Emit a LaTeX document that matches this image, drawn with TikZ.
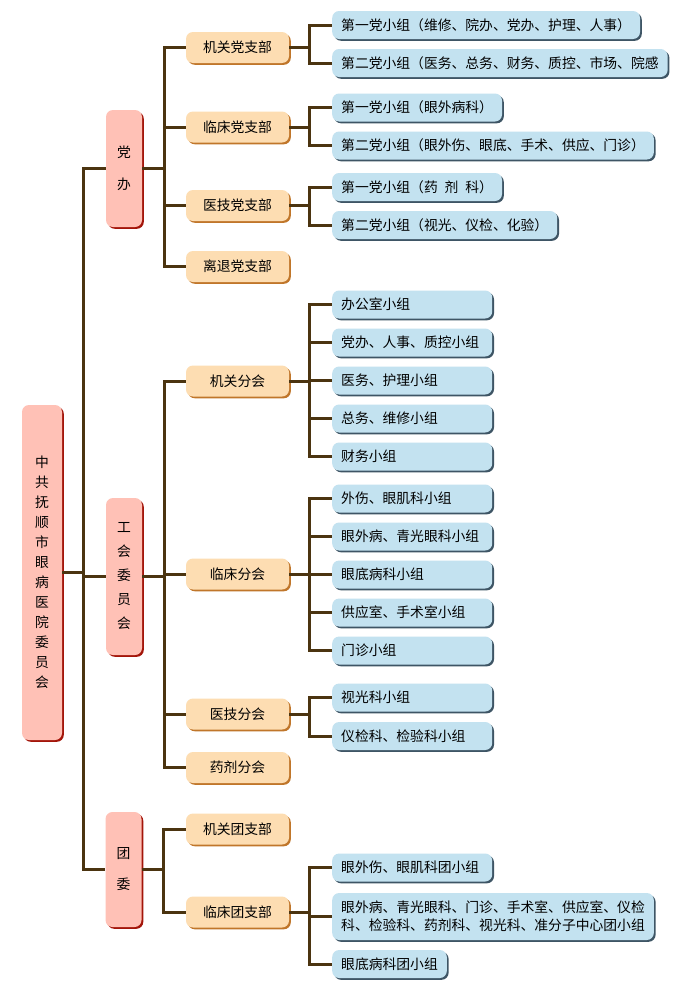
\documentclass[tikz,border=0pt]{standalone}
\usepackage{fontspec}
\newfontfamily\cjk{Noto Sans CJK SC}
\usetikzlibrary{shadows}

\definecolor{linkbrown}{HTML}{4B3410}
\definecolor{pinkfill}{HTML}{FFC1B6}
\definecolor{pinkshade}{HTML}{A3150A}
\definecolor{orangefill}{HTML}{FDDDB2}
\definecolor{orangeshade}{HTML}{C0762A}
\definecolor{bluefill}{HTML}{C3E2F0}
\definecolor{blueshade}{HTML}{3E5565}

\tikzset{
  link/.style={draw=linkbrown, line width=3pt},
  vbox/.style 2 args={fill=pinkfill, rounded corners=7pt, minimum width=36pt,
    minimum height=#1, align=center, inner sep=0pt,
    font=\cjk\fontsize{13.8}{#2}\selectfont,
    drop shadow={shadow xshift=1.8pt, shadow yshift=-1.8pt, fill=pinkshade, opacity=1}},
  unit/.style={fill=orangefill, rounded corners=7pt, minimum width=103pt,
    minimum height=31pt, inner sep=0pt, font=\cjk\fontsize{13.8}{16}\selectfont,
    drop shadow={shadow xshift=1.8pt, shadow yshift=-1.8pt, fill=orangeshade, opacity=1}},
  grpw/.style={fill=bluefill, rounded corners=7pt, anchor=west, minimum height=28pt,
    inner xsep=9pt, inner ysep=0pt, font=\cjk\fontsize{13.8}{18}\selectfont,
    drop shadow={shadow xshift=1.8pt, shadow yshift=-1.8pt, fill=blueshade, opacity=1}},
  grp/.style={grpw, text width=142pt, align=left}
}

\begin{document}
\begin{tikzpicture}[x=1pt,y=-1pt]
\useasboundingbox[fill=white] (0,0) rectangle (680,993);

% Root
\node[vbox={40pt}{20pt}, minimum width=40pt, minimum height=335pt] (root) at (42,572.5)
  {中\\共\\抚\\顺\\市\\眼\\病\\医\\院\\委\\员\\会};

% Second level
\node[vbox={117pt}{32pt}] (db) at (124,168.5) {党\\办};
\node[vbox={157pt}{24pt}] (gh) at (124,576.5) {工\\会\\委\\员\\会};
\node[vbox={115pt}{31pt}] (tw) at (123.5,869.5) {团\\委};

% Party branches
\node[unit] (dzb1) at (237.5,47.5) {机关党支部};
\node[unit] (dzb2) at (237.5,127) {临床党支部};
\node[unit] (dzb3) at (237.5,205.5) {医技党支部};
\node[unit] (dzb4) at (237.5,266.5) {离退党支部};

\node[grpw] (dxz11) at (332,25) {第一党小组（维修、院办、党办、护理、人事）};
\node[grpw] (dxz12) at (332,63) {第二党小组（医务、总务、财务、质控、市场、院感};
\node[grpw] (dxz21) at (332,107.5) {第一党小组（眼外病科）};
\node[grpw] (dxz22) at (332,145.5) {第二党小组（眼外伤、眼底、手术、供应、门诊）};
\node[grpw] (dxz31) at (332,187) {第一党小组（药\hspace{.5em}剂\hspace{.5em}科）};
\node[grpw] (dxz32) at (332,225) {第二党小组（视光、仪检、化验）};

% Union branches
\node[unit] (fh1) at (237.5,381) {机关分会};
\node[unit] (fh2) at (237.5,574) {临床分会};
\node[unit] (fh3) at (237.5,714) {医技分会};
\node[unit] (fh4) at (237.5,767.5) {药剂分会};

\foreach \t [count=\i] in {办公室小组, 党办、人事、质控小组, 医务、护理小组, 总务、维修小组, 财务小组}
  \node[grp] (ga\i) at (332,304.5+38*\i-38) {\t};
\foreach \t [count=\i] in {外伤、眼肌科小组, 眼外病、青光眼科小组, 眼底病科小组, 供应室、手术室小组, 门诊小组}
  \node[grp] (gb\i) at (332,498.5+38*\i-38) {\t};
\foreach \t [count=\i] in {视光科小组, 仪检科、检验科小组}
  \node[grp] (gc\i) at (332,697.5+38.5*\i-38.5) {\t};

% Youth league branches
\node[unit] (tzb1) at (237.5,829) {机关团支部};
\node[unit] (tzb2) at (237.5,912) {临床团支部};

\node[grp] (txz1) at (332,867.5) {眼外伤、眼肌科团小组};
\node[grpw, minimum height=47pt, align=left] (txz2) at (332,916.5)
  {眼外病、青光眼科、门诊、手术室、供应室、仪检\\科、检验科、药剂科、视光科、准分子中心团小组};
\node[grpw] (txz3) at (332,964) {眼底病科团小组};

% Connectors
\foreach \c in {db,gh,tw}
  \draw[link] (root.east) -- ++(21,0) |- (\c.west);
\foreach \c in {dzb1,dzb2,dzb3,dzb4}
  \draw[link] (db.east) -- ++(22,0) |- (\c.west);
\foreach \c in {fh1,fh2,fh3,fh4}
  \draw[link] (gh.east) -- ++(22,0) |- (\c.west);
\foreach \c in {tzb1,tzb2}
  \draw[link] (tw.east) -- ++(22,0) |- (\c.west);

\foreach \p/\a/\b in {dzb1/dxz11/dxz12, dzb2/dxz21/dxz22, dzb3/dxz31/dxz32, fh3/gc1/gc2}
{
  \draw[link] (\p.east) -- ++(20,0) |- (\a.west);
  \draw[link] (\p.east) -- ++(20,0) |- (\b.west);
}
\foreach \i in {1,...,5}
{
  \draw[link] (fh1.east) -- ++(20,0) |- (ga\i.west);
  \draw[link] (fh2.east) -- ++(20,0) |- (gb\i.west);
}
\foreach \i in {1,2,3}
  \draw[link] (tzb2.east) -- ++(20,0) |- (txz\i.west);

\end{tikzpicture}
\end{document}
